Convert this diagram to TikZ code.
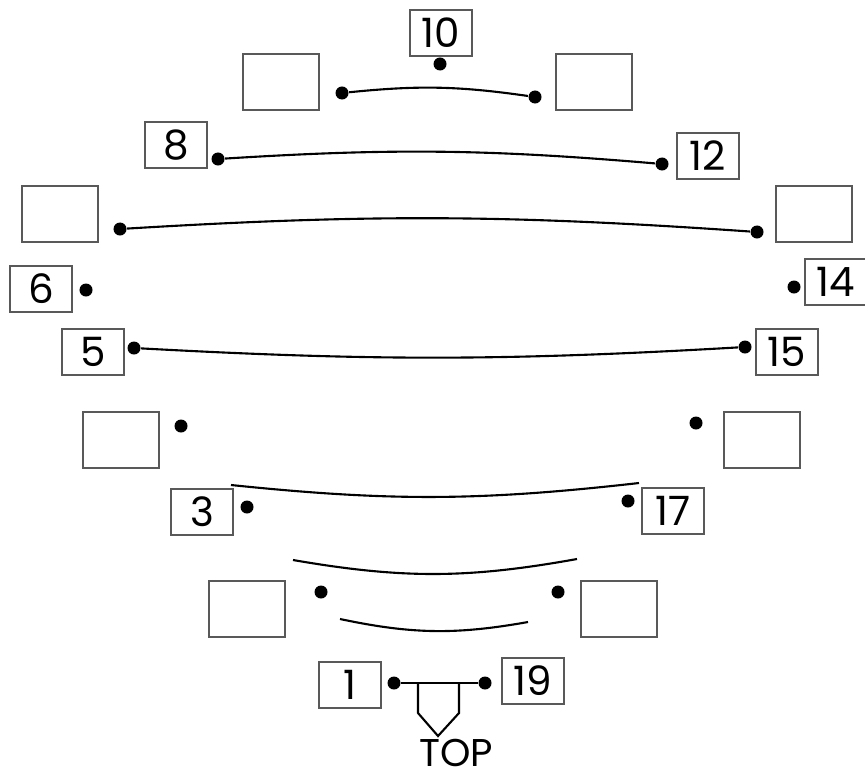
\documentclass[tikz,border=0pt]{standalone}
\usepackage{fontspec}
\setmainfont{Poppins}

\tikzset{
	numbox/.style={draw=black!65, line width=0.6pt, minimum width=0.62cm, minimum height=0.46cm, inner sep=0pt, font=\fontsize{11.5}{12}\selectfont},
	blankbox/.style={draw=black!65, line width=0.6pt, minimum width=0.76cm, minimum height=0.56cm, inner sep=0pt},
	bead/.style={circle, fill=black, inner sep=0pt, minimum size=0.13cm},
	wire/.style={line width=0.6pt}
}

\begin{document}
\begin{tikzpicture}[x=0.01cm, y=-0.01cm]
	\useasboundingbox (0,0) rectangle (865,776);
	% boxes, left side going up then right side going down
	\node[numbox] (p1) at (350,685) {1};
	\node[blankbox] (p2) at (247,609) {};
	\node[numbox] (p3) at (202,512) {3};
	\node[blankbox] (p4) at (121,440) {};
	\node[numbox] (p5) at (93,352) {5};
	\node[numbox] (p6) at (41,289) {6};
	\node[blankbox] (p7) at (60,214) {};
	\node[numbox] (p8) at (176,145) {8};
	\node[blankbox] (p9) at (281,82) {};
	\node[numbox] (p10) at (441,33) {10};
	\node[blankbox] (p11) at (594,82) {};
	\node[numbox] (p12) at (708,156) {12};
	\node[blankbox] (p13) at (814,214) {};
	\node[numbox] (p14) at (836,282) {14};
	\node[numbox] (p15) at (787,352) {15};
	\node[blankbox] (p16) at (762,440) {};
	\node[numbox] (p17) at (673,511) {17};
	\node[blankbox] (p18) at (619,609) {};
	\node[numbox] (p19) at (533,681) {19};
	% pins
	\node[bead] (d1) at (394,683) {};
	\node[bead] (d2) at (321,592) {};
	\node[bead] (d3) at (247,507) {};
	\node[bead] (d4) at (181,426) {};
	\node[bead] (d5) at (134,348) {};
	\node[bead] (d6) at (86,290) {};
	\node[bead] (d7) at (120,229) {};
	\node[bead] (d8) at (218,159) {};
	\node[bead] (d9) at (342,93) {};
	\node[bead] (d10) at (440,64) {};
	\node[bead] (d11) at (535,97) {};
	\node[bead] (d12) at (662,164) {};
	\node[bead] (d13) at (757,232) {};
	\node[bead] (d14) at (794,287) {};
	\node[bead] (d15) at (745,347) {};
	\node[bead] (d16) at (696,423) {};
	\node[bead] (d17) at (628,501) {};
	\node[bead] (d18) at (558,592) {};
	\node[bead] (d19) at (485,683) {};
	% links
	\draw[wire] (d9) to[bend left=7] (d11);
	\draw[wire] (d8) to[bend left=4.2] (d12);
	\draw[wire] (d7) to[bend left=3.7] (d13);
	\draw[wire] (d5) to[bend right=3.2] (d15);
	\draw[wire] (d1) -- (d19);
	\coordinate (a1) at (231,485);
	\coordinate (a2) at (639,483);
	\coordinate (b1) at (293,560);
	\coordinate (b2) at (577,559);
	\coordinate (c1) at (340,619);
	\coordinate (c2) at (528,622);
	\draw[wire] (a1) to[bend right=6.2] (a2);
	\draw[wire] (b1) to[bend right=10] (b2);
	\draw[wire] (c1) to[bend right=11] (c2);
	% key at the bottom
	\draw[wire] (418,683) -- (418,713) -- (438,736) -- (459,713) -- (459,683);
	\node[inner sep=0pt, font=\fontsize{11}{12}\selectfont] (top) at (456,753) {TOP};
\end{tikzpicture}
\end{document}
